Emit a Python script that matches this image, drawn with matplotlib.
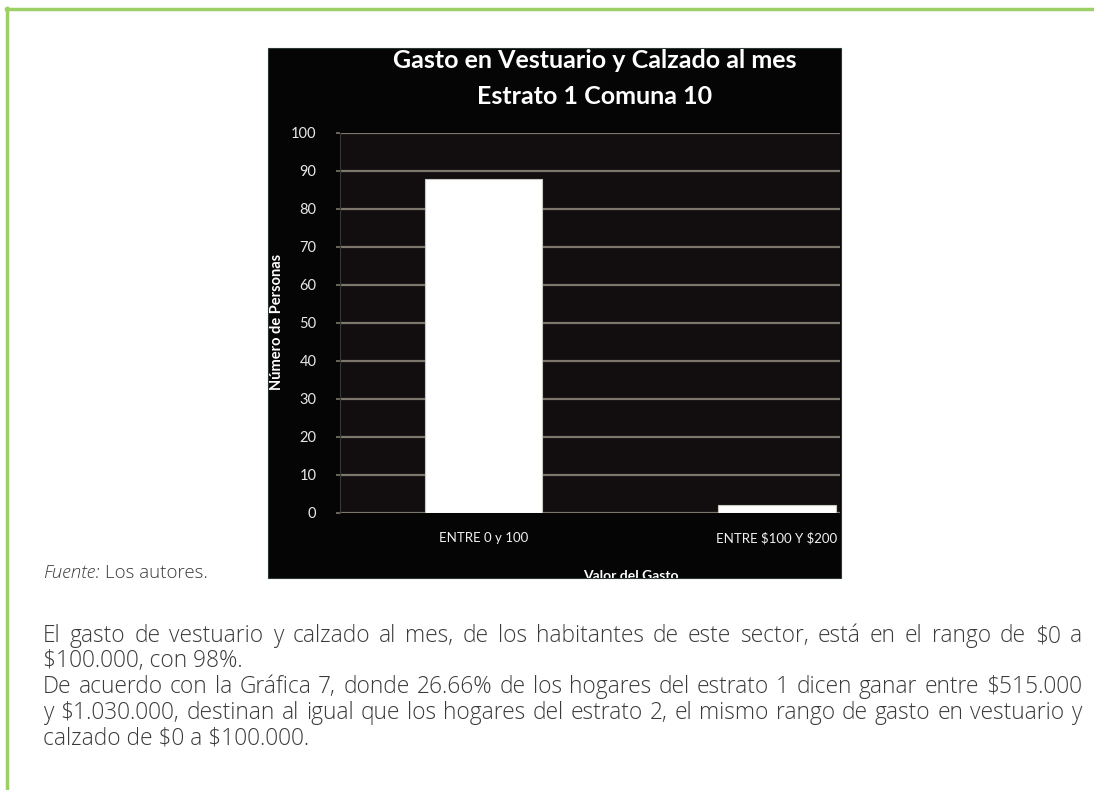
import matplotlib
matplotlib.use("Agg")
import matplotlib.pyplot as plt
from matplotlib.patches import Rectangle
from matplotlib.lines import Line2D

# -------------------------
# Datos
# -------------------------
categorias = ["ENTRE 0 y 100", "ENTRE $100 Y $200"]
personas = [88, 2]
yticks = list(range(0, 101, 10))

titulo = ["Gasto en Vestuario y Calzado al mes", "Estrato 1 Comuna 10"]
ylabel = "Número de Personas"
xlabel = "Valor del Gasto"

parrafo = [
    ("El gasto de vestuario y calzado al mes, de los habitantes de este sector, está en el rango de $0 a", True),
    ("$100.000, con 98%.", False),
    ("De acuerdo con la Gráfica 7, donde 26.66% de los hogares del estrato 1 dicen ganar entre $515.000", True),
    ("y $1.030.000, destinan al igual que los hogares del estrato 2, el mismo rango de gasto en vestuario y", True),
    ("calzado de $0 a $100.000.", False),
]

# -------------------------
# Figura (coordenadas en pixeles desde arriba)
# -------------------------
W, H = 1094, 790
fig = plt.figure(figsize=(W / 100, H / 100), dpi=100)
fig.patch.set_facecolor("white")
renderer = fig.canvas.get_renderer()


def fx(x):
    return x / W


def fy(y):
    return 1 - y / H


def ancho(s, **kw):
    tt = fig.text(0, 0, s, **kw)
    w = tt.get_window_extent(renderer).width
    tt.remove()
    return w


# marco verde de la pagina
verde = "#9dcf67"
fig.add_artist(Line2D([fx(6), 1], [fy(9), fy(9)], color=verde, lw=2.5))
fig.add_artist(Line2D([fx(7), fx(7)], [fy(8), 0], color=verde, lw=2.5))

# caja negra del grafico
caja = Rectangle((fx(268), fy(578)), fx(841) - fx(268), fy(48) - fy(578),
                 transform=fig.transFigure, facecolor="#050505",
                 edgecolor="#2a3a30", lw=0.8, zorder=0)
fig.add_artist(caja)

# -------------------------
# Ejes
# -------------------------
ax = fig.add_axes([fx(340), fy(513), fx(840) - fx(340), fy(133) - fy(513)])
ax.set_facecolor("#120e10")
x = list(range(len(categorias)))
ax.bar(x, personas, width=0.4, color="white", edgecolor="#c8c8c0", lw=0.8, zorder=3)
ax.set_xlim(-0.489, 1.215)
ax.set_ylim(0, 100)
ax.set_yticks(yticks)
ax.yaxis.grid(True, color="#7d766c", lw=1.6, zorder=1)
ax.set_axisbelow(True)
for s in ["top", "right", "bottom"]:
    ax.spines[s].set_visible(False)
ax.spines["left"].set_color("#3a3634")
ax.tick_params(axis="y", colors="#7d766c", length=3, width=1.2, pad=14,
               labelcolor="#e8e8e8", labelsize=10.5)
ax.tick_params(axis="x", length=0, pad=14, labelcolor="#f0f0f0", labelsize=9.5)
ax.set_xticks(x)
ax.set_xticklabels([c.replace("$", r"\$") for c in categorias], fontfamily="Lato")
for t in ax.get_yticklabels():
    t.set_fontfamily("Lato")

# titulos y etiquetas
fig.text(fx(595), fy(61), titulo[0], color="white", fontsize=18,
         fontweight="bold", fontfamily="Lato", ha="center", va="center")
fig.text(fx(595), fy(96), titulo[1], color="white", fontsize=18,
         fontweight="bold", fontfamily="Lato", ha="center", va="center")
fig.text(fx(277), fy(322), ylabel, color="white", fontsize=10.5, fontweight="bold",
         fontfamily="Lato", rotation=90, ha="center", va="center")
t = fig.text(fx(631), fy(579.5), xlabel, color="white", fontsize=10, fontweight="bold",
             fontfamily="Lato", ha="center", va="baseline")
t.set_clip_path(caja)

# -------------------------
# Texto bajo el grafico
# -------------------------
gris = "#3a3a3a"
base_txt = dict(fontfamily="Open Sans", fontweight="light", color=gris, parse_math=False)

x0, x1 = 43, 1082

# tamano calibrado sobre la ultima linea (~290 px de ancho),
# reducido hasta que las lineas justificadas tengan espacios normales
tam = 10 * 290 / ancho(parrafo[4][0], fontsize=10, **base_txt)
while True:
    huecos = []
    for linea, just in parrafo:
        if just:
            pal = linea.split(" ")
            suma = sum(ancho(p, fontsize=tam, **base_txt) for p in pal)
            huecos.append((x1 - x0 - suma) / (len(pal) - 1))
    if min(huecos) >= 0.3 * tam * 100 / 72:
        break
    tam -= 0.1
fuente_txt = dict(fontsize=tam, **base_txt)

tam_f = 10 * 170 / ancho("Fuente: Los autores.", fontsize=10, **base_txt)
f1 = fig.text(fx(43), fy(578), "Fuente:", fontstyle="italic", va="baseline",
              fontsize=tam_f, **base_txt)
w1 = f1.get_window_extent(renderer).width
fig.text(fx(43 + w1 + 5), fy(578), "Los autores.", va="baseline",
         fontsize=tam_f, **base_txt)

bases = [642, 667, 693, 719, 744]
for (linea, justificada), yb in zip(parrafo, bases):
    if not justificada:
        fig.text(fx(x0), fy(yb), linea, va="baseline", **fuente_txt)
        continue
    palabras = linea.split(" ")
    anchos = [ancho(p, **fuente_txt) for p in palabras]
    hueco = (x1 - x0 - sum(anchos)) / (len(palabras) - 1)
    xp = x0
    for p, w in zip(palabras, anchos):
        fig.text(fx(xp), fy(yb), p, va="baseline", **fuente_txt)
        xp += w + hueco

fig.savefig("out.png", dpi=100, facecolor="white")
